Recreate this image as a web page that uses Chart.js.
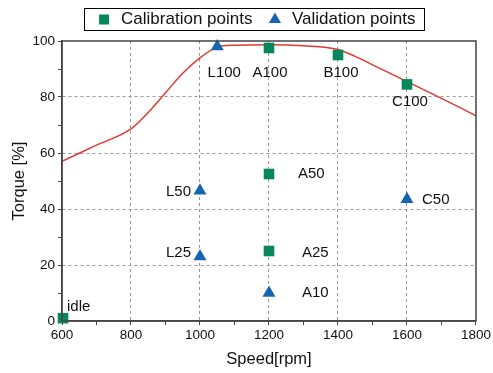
<!DOCTYPE html>
<html>
<head>
<meta charset="utf-8">
<script src="https://cdn.jsdelivr.net/npm/chart.js@4"></script>
<style>
  html, body { margin: 0; padding: 0; background: #fff; }
  #wrap { width: 493px; height: 373px; }
</style>
</head>
<body>
<div id="wrap"><canvas id="torqueChart"></canvas></div>
<script>
// full load curve
const curveSpeed  = [600, 700, 800, 850, 900, 950, 1000, 1050, 1100, 1200, 1300, 1400, 1450, 1500, 1600, 1700, 1800];
const curveTorque = [57, 62.8, 68.6, 74.5, 81.5, 88.5, 94, 97.8, 98.5, 98.7, 98.3, 97, 94.5, 91.5, 85.5, 79.5, 73.3];

// calibration points
const calNames  = ['idle', 'A100', 'B100', 'C100', 'A50', 'A25'];
const calSpeed  = [603, 1200, 1400, 1600, 1200, 1200];
const calTorque = [1, 97.5, 95, 84.5, 52.5, 25];

// validation points
const valNames  = ['L100', 'L50', 'C50', 'L25', 'A10'];
const valSpeed  = [1050, 1000, 1600, 1000, 1200];
const valTorque = [98, 46.5, 43.5, 23, 10];

const xTicks = [600, 800, 1000, 1200, 1400, 1600, 1800];
const yTicks = [0, 20, 40, 60, 80, 100];

const green = '#07885c';
const blue = '#1565b0';
const axisColor = '#444';
const fontFamily = '"Liberation Sans", Arial, sans-serif';
const legendFontSize = 17;
const legendPadding = 14;

// where each point label sits relative to its marker
const labelPlace = {
    'idle': { dx: 4, dy: -11, align: 'left' },
    'A100': { dx: 1, dy: 25, align: 'center' },
    'B100': { dx: 3, dy: 18, align: 'center' },
    'C100': { dx: 3, dy: 17, align: 'center' },
    'A50':  { dx: 29, dy: 0, align: 'left' },
    'A25':  { dx: 33, dy: 2, align: 'left' },
    'L100': { dx: 7, dy: 26, align: 'center' },
    'L50':  { dx: -9, dy: 1, align: 'right' },
    'C50':  { dx: 15, dy: 1, align: 'left' },
    'L25':  { dx: -9, dy: -4, align: 'right' },
    'A10':  { dx: 33, dy: 0, align: 'left' }
};

// legend sits a little right of centre and close to the top edge
const legendShift = { x: 17, y: -3 };

const toXY = (xs, ys) => xs.map((x, i) => ({ x: x, y: ys[i] }));

const pointLabels = {
    id: 'pointLabels',
    afterDatasetsDraw(chart) {
        const ctx = chart.ctx;
        ctx.save();
        ctx.font = '15px ' + fontFamily;
        ctx.fillStyle = '#111';
        ctx.textBaseline = 'middle';
        chart.data.datasets.forEach((ds, di) => {
            if (!ds.names) return;
            chart.getDatasetMeta(di).data.forEach((el, i) => {
                const p = labelPlace[ds.names[i]];
                ctx.textAlign = p.align;
                ctx.fillText(ds.names[i], el.x + p.dx, el.y + p.dy);
            });
        });
        ctx.restore();
    }
};

const frameAndLegendBox = {
    id: 'frameAndLegendBox',
    afterUpdate(chart) {
        const lg = chart.legend;
        lg.left += legendShift.x;
        lg.right += legendShift.x;
        lg.top += legendShift.y;
        lg.bottom += legendShift.y;
    },
    afterDraw(chart) {
        const ctx = chart.ctx;
        const a = chart.chartArea;
        ctx.save();
        ctx.strokeStyle = axisColor;
        ctx.lineWidth = 1.5;
        ctx.strokeRect(a.left, a.top, a.right - a.left, a.bottom - a.top);

        // box round the legend row, same geometry the legend uses when centring
        const lg = chart.legend;
        if (lg.lineWidths && lg.lineWidths.length) {
            const rowW = lg.lineWidths[0];
            const x0 = (lg.left + legendPadding + lg.right - rowW) / 2;
            const l = x0 - 12;
            const r = x0 + rowW - legendPadding + 8;
            const t = lg.top + legendPadding - 3;
            const h = legendFontSize + 5;
            ctx.strokeStyle = '#000';
            ctx.lineWidth = 1;
            ctx.strokeRect(Math.round(l) + 0.5, Math.round(t) + 0.5, Math.round(r - l), Math.round(h));
        }
        ctx.restore();
    }
};

const ctxTorque = document.getElementById('torqueChart');

const dataTorque = {
    datasets: [{
        type: 'line',
        label: 'Full load',
        data: toXY(curveSpeed, curveTorque),
        borderColor: '#e03a34',
        borderWidth: 1.5,
        pointRadius: 0,
        cubicInterpolationMode: 'monotone',
        order: 3
    }, {
        type: 'scatter',
        label: 'Calibration points',
        names: calNames,
        data: toXY(calSpeed, calTorque),
        pointStyle: 'rect',
        pointRadius: 7.5,
        backgroundColor: green,
        borderColor: green,
        borderWidth: 0,
        clip: false,
        order: 1
    }, {
        type: 'scatter',
        label: 'Validation points',
        names: valNames,
        data: toXY(valSpeed, valTorque),
        pointStyle: 'triangle',
        pointRadius: 7.5,
        backgroundColor: blue,
        borderColor: blue,
        borderWidth: 0,
        clip: false,
        order: 2
    }]
};

const tickFont = { family: fontFamily, size: 13.5 };
const titleFont = { family: fontFamily, size: 16.5 };

const configTorque = {
    type: 'scatter',
    data: dataTorque,
    plugins: [pointLabels, frameAndLegendBox],
    options: {
        maintainAspectRatio: false,
        responsive: true,
        animation: false,
        layout: {
            padding: { top: 0, right: 16, left: 0, bottom: 0 }
        },
        plugins: {
            tooltip: { enabled: false },
            legend: {
                display: true,
                labels: {
                    filter: item => item.text !== 'Full load',
                    usePointStyle: true,
                    boxWidth: 17,
                    boxHeight: 10,
                    padding: legendPadding,
                    color: '#111',
                    font: { family: fontFamily, size: legendFontSize }
                }
            }
        },
        scales: {
            x: {
                type: 'linear',
                min: 600,
                max: 1800,
                afterFit: s => { s.height = 52; },
                ticks: {
                    stepSize: 100,
                    autoSkip: false,
                    maxRotation: 0,
                    color: '#111',
                    font: tickFont,
                    padding: 2,
                    callback: v => xTicks.includes(v) ? String(v) : ''
                },
                grid: {
                    color: c => (c.tick && xTicks.includes(c.tick.value) && c.tick.value > 600 && c.tick.value < 1800) ? '#999' : 'rgba(0,0,0,0)',
                    tickColor: axisColor,
                    tickLength: 4,
                    lineWidth: 1
                },
                border: { color: axisColor, width: 1.5, dash: [3, 3] },
                title: {
                    display: true,
                    text: 'Speed[rpm]',
                    color: '#111',
                    font: titleFont,
                    padding: { top: 8 }
                }
            },
            y: {
                min: 0,
                max: 100,
                afterFit: s => { s.width = 62; },
                ticks: {
                    stepSize: 10,
                    autoSkip: false,
                    color: '#111',
                    font: tickFont,
                    padding: 3,
                    callback: v => yTicks.includes(v) ? String(v) : ''
                },
                grid: {
                    color: c => (c.tick && yTicks.includes(c.tick.value) && c.tick.value > 0 && c.tick.value < 100) ? '#999' : 'rgba(0,0,0,0)',
                    tickColor: axisColor,
                    tickLength: 4,
                    lineWidth: 1
                },
                border: { color: axisColor, width: 1.5, dash: [3, 3] },
                title: {
                    display: true,
                    text: 'Torque [%]',
                    color: '#111',
                    font: titleFont,
                    padding: { top: 10, bottom: 0 }
                }
            }
        }
    }
};

const chartTorque = new Chart(ctxTorque, configTorque);
</script>
</body>
</html>
